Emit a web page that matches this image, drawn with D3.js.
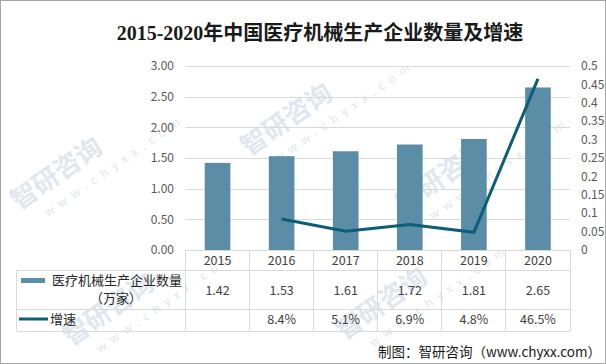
<!DOCTYPE html>
<html>
<head>
<meta charset="utf-8">
<script src="https://cdn.jsdelivr.net/npm/d3@7.9.0/dist/d3.min.js"></script>
<style>
  body { margin: 0; background: #fff; }
  svg { display: block; font-family: 'Noto Sans CJK SC', 'Noto Sans', sans-serif; }
</style>
</head>
<body>
<svg id="chart" width="606" height="364"></svg>
<script>
// Chart data
const years = ['2015', '2016', '2017', '2018', '2019', '2020'];
const companies = [1.42, 1.53, 1.61, 1.72, 1.81, 2.65];        // 万家
const growth = [null, 0.084, 0.051, 0.069, 0.048, 0.465];       // 增速
const growthLabels = ['', '8.4%', '5.1%', '6.9%', '4.8%', '46.5%'];
const leftTicks = [0, 0.5, 1, 1.5, 2, 2.5, 3];
const rightTicks = [0, 0.05, 0.1, 0.15, 0.2, 0.25, 0.3, 0.35, 0.4, 0.45, 0.5];

const title = '2015-2020年中国医疗机械生产企业数量及增速';
const barName = '医疗机械生产企业数量';
const barUnit = '（万家）';
const lineName = '增速';
const source = '制图：智研咨询（www.chyxx.com）';

// watermark anchor points (kept inside the frame)
const marks = [[290, 128], [60, 182], [445, 185], [112, 318], [385, 312]];

const barColor = '#5b8ea6';
const lineColor = '#0d5d7a';
const gridColor = '#d9d9d9';

const svg = d3.select('#chart');

// frame
svg.append('rect')
  .attr('x', 0.5).attr('y', 0.5)
  .attr('width', 605).attr('height', 363)
  .attr('fill', '#fff')
  .attr('stroke', '#a6a6a6');

// faint watermarks
const wm = svg.append('g').attr('fill', '#e1e7ee');
marks.forEach(([x, y]) => {
  const g = wm.append('g').attr('transform', `translate(${x},${y}) rotate(-35)`);
  g.append('text').attr('x', -50).attr('y', 0)
    .attr('font-size', 26).attr('font-weight', 'bold').text('智研咨询');
  g.append('text').attr('x', -30).attr('y', 22)
    .attr('font-size', 12).attr('letter-spacing', 6).text('www.chyxx.com');
});

// scales
const x = d3.scaleBand().domain(years).range([185.5, 570]).padding(0);
const yL = d3.scaleLinear().domain([0, 3]).range([250, 66]);
const yR = d3.scaleLinear().domain([0, 0.5]).range([250, 66]);

// gridlines
svg.append('g')
  .selectAll('line')
  .data(leftTicks.slice(1))
  .join('line')
  .attr('x1', 185.5).attr('x2', 570)
  .attr('y1', d => Math.round(yL(d)) + 0.5)
  .attr('y2', d => Math.round(yL(d)) + 0.5)
  .attr('stroke', gridColor);

// left axis labels
svg.append('g')
  .selectAll('text')
  .data(leftTicks)
  .join('text')
  .attr('x', 174)
  .attr('y', d => yL(d))
  .attr('dy', '0.35em')
  .attr('text-anchor', 'end')
  .attr('font-size', 12)
  .attr('fill', '#595959')
  .text(d => d3.format('.2f')(d));

// right axis labels
svg.append('g')
  .selectAll('text')
  .data(rightTicks)
  .join('text')
  .attr('x', 581)
  .attr('y', d => yR(d))
  .attr('dy', '0.35em')
  .attr('font-size', 12)
  .attr('fill', '#595959')
  .text(d => String(+d.toFixed(2)));

// bars
const bw = x.bandwidth() * 0.4;
svg.append('g')
  .selectAll('rect')
  .data(years)
  .join('rect')
  .attr('x', (d) => x(d) + (x.bandwidth() - bw) / 2)
  .attr('y', (d, i) => yL(companies[i]))
  .attr('width', bw)
  .attr('height', (d, i) => yL(0) - yL(companies[i]))
  .attr('fill', barColor);

// growth line
const line = d3.line()
  .defined(d => d.v != null)
  .x(d => x(d.year) + x.bandwidth() / 2)
  .y(d => yR(d.v));

svg.append('path')
  .datum(years.map((year, i) => ({ year, v: growth[i] })))
  .attr('d', line)
  .attr('fill', 'none')
  .attr('stroke', lineColor)
  .attr('stroke-width', 3);

// data table
const rowY = [250, 270, 309, 331];
const tableLeft = 16.5;
const table = svg.append('g').attr('stroke', gridColor).attr('shape-rendering', 'crispEdges');

table.append('line').attr('x1', 185.5).attr('x2', 570).attr('y1', rowY[0]).attr('y2', rowY[0]);
rowY.slice(1).forEach(yy => {
  table.append('line').attr('x1', tableLeft).attr('x2', 570).attr('y1', yy).attr('y2', yy);
});
table.append('line').attr('x1', tableLeft).attr('x2', tableLeft).attr('y1', rowY[1]).attr('y2', rowY[3]);
years.forEach(yr => {
  table.append('line').attr('x1', x(yr)).attr('x2', x(yr)).attr('y1', rowY[0]).attr('y2', rowY[3]);
});
table.append('line').attr('x1', 570).attr('x2', 570).attr('y1', rowY[0]).attr('y2', rowY[3]);

const cell = svg.append('g')
  .attr('font-size', 12.5)
  .attr('fill', '#404040')
  .attr('text-anchor', 'middle');

cell.selectAll('.yr')
  .data(years)
  .join('text')
  .attr('class', 'yr')
  .attr('x', d => x(d) + x.bandwidth() / 2)
  .attr('y', 261)
  .attr('dy', '0.35em')
  .text(d => d);

cell.selectAll('.val')
  .data(years)
  .join('text')
  .attr('class', 'val')
  .attr('x', d => x(d) + x.bandwidth() / 2)
  .attr('y', 291)
  .attr('dy', '0.35em')
  .text((d, i) => companies[i].toFixed(2));

cell.selectAll('.gr')
  .data(years)
  .join('text')
  .attr('class', 'gr')
  .attr('x', d => x(d) + x.bandwidth() / 2)
  .attr('y', 320)
  .attr('dy', '0.35em')
  .text((d, i) => growthLabels[i]);

// legend keys in table
svg.append('rect')
  .attr('x', 21).attr('y', 278)
  .attr('width', 24).attr('height', 5)
  .attr('fill', barColor);
svg.append('text')
  .attr('x', 52).attr('y', 280).attr('dy', '0.35em')
  .attr('font-size', 13).attr('fill', '#262626')
  .text(barName);
svg.append('text')
  .attr('x', 116).attr('y', 298).attr('dy', '0.35em')
  .attr('text-anchor', 'middle')
  .attr('font-size', 13).attr('fill', '#262626')
  .text(barUnit);

svg.append('line')
  .attr('x1', 19).attr('x2', 48)
  .attr('y1', 319).attr('y2', 319)
  .attr('stroke', lineColor).attr('stroke-width', 3);
svg.append('text')
  .attr('x', 50).attr('y', 319).attr('dy', '0.35em')
  .attr('font-size', 13).attr('fill', '#262626')
  .text(lineName);

// title
svg.append('text')
  .attr('x', 320).attr('y', 40)
  .attr('text-anchor', 'middle')
  .attr('font-family', "'Liberation Serif', 'Noto Sans CJK SC', serif")
  .attr('font-size', 20)
  .attr('font-weight', 'bold')
  .attr('fill', '#1a1a1a')
  .text(title);

// source
svg.append('text')
  .attr('x', 601).attr('y', 352).attr('dy', '0.35em')
  .attr('text-anchor', 'end')
  .attr('font-size', 13.5)
  .attr('fill', '#1a1a1a')
  .text(source);
</script>
</body>
</html>
